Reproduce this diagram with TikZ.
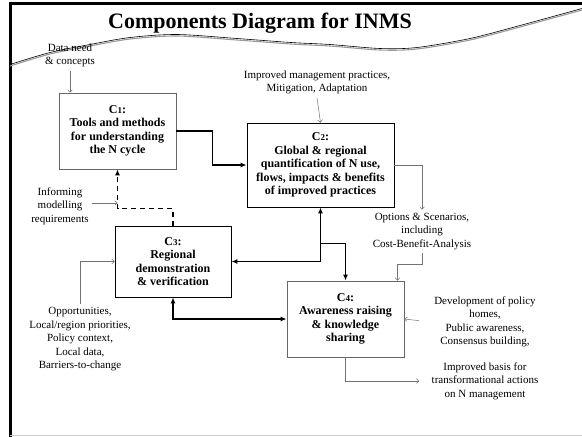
\documentclass[tikz,border=0pt]{standalone}
\usepackage{fontspec}
\setmainfont{Liberation Serif}
\usetikzlibrary{arrows.meta}
\tikzset{
  comp/.style={draw,line width=0.8pt,align=center,inner sep=2pt,
    font=\bfseries\fontsize{12}{13.5}\selectfont},
  note/.style={align=center,font=\fontsize{11}{13.5}\selectfont},
  feed/.style={draw=black!55,line width=0.5pt,->,>={To[length=3pt,width=5pt]}},
  link/.style={line width=1.3pt,>={Latex[length=6pt,width=5pt]}},
}
\newcommand{\cnum}[1]{{\fontsize{9}{9}\selectfont #1}}

\begin{document}
\begin{tikzpicture}[x=1pt,y=-1pt]
\useasboundingbox (0,0) rectangle (582,437);
% slide frame
\draw[line width=3pt] (10,437) -- (10,3) -- (582,3);
\draw[black!20,line width=0.6pt] (10,435) -- (582,435);
% wavy rule
\draw[black!40,line width=1.1pt] plot[smooth] coordinates {(10,66) (50,54) (90,46) (130,39) (177,36) (237,40) (291,44) (330,46) (380,50) (417,49) (470,40) (520,27) (582,10)};
\draw[line width=0.6pt] plot[smooth] coordinates {(10,64.5) (50,52.5) (90,44.5) (130,37.5) (177,34.5) (237,38.5) (291,42.5) (330,44.5) (380,48.5) (417,47.5) (470,38.5) (520,25.5) (582,8.5)};
\node[font=\bfseries\fontsize{22}{24}\selectfont] (title) at (260,23) {Components Diagram for INMS};

% components
\node[comp,draw=black!60,minimum width=117pt,minimum height=76pt] (c1) at (117.5,131)
  {C\cnum{1}:\\Tools and methods\\for understanding\\the N cycle};
\node[comp,minimum width=147pt,minimum height=84pt] (c2) at (320.5,165)
  {C\cnum{2}:\\Global \& regional\\quantification of N use,\\flows, impacts \& benefits\\of improved practices};
\node[comp,minimum width=116pt,minimum height=71pt] (c3) at (173,261.5)
  {C\cnum{3}:\\Regional\\demonstration\\\& verification};
\node[comp,draw=black!60,minimum width=117pt,minimum height=76pt] (c4) at (345.5,319)
  {C\cnum{4}:\\Awareness raising\\\& knowledge\\sharing};

% inputs and outputs
\node[note] (data) at (70,55.5) {Data need\\\& concepts};
\node[note] (inform) at (60,206) {Informing\\modelling\\requirements};
\node[note] (improved) at (317,82.5) {Improved management practices,\\Mitigation, Adaptation};
\node[note] (options) at (422,231.5) {Options \& Scenarios,\\including\\Cost-Benefit-Analysis};
\node[note] (opport) at (80,339.5) {Opportunities,\\Local/region priorities,\\Policy context,\\Local data,\\Barriers-to-change};
\node[note] (policy) at (485,322) {Development of policy\\homes,\\Public awareness,\\Consensus building,};
\node[note] (basis) at (485,381) {Improved basis for\\transformational actions\\on N management};

% main links
\draw[link,->] (c1.east) -- ++(36,0) |- (c2.west);
\draw[link,->,dash pattern=on 5pt off 4pt,line width=1.1pt] (c3.north) -- ++(0,-17) -| (c1.south);
\draw[link,<->] (c2.south) |- (c3.east);
\path (c2.south) ++(0,36) coordinate (fork);
\draw[link,->] (fork) -| (c4.north);
\draw[link,<->] (c3.south) |- (c4.west);

% feeds
\draw[feed] (data.south) -- (data.south |- c1.north);
\draw[feed] ([yshift=3pt]inform.east) -- ([yshift=3pt]inform.east -| c1.south);
\draw[feed] (improved.south) -- (c2.north);
\draw[feed] (c2.east) -| (options.north);
\draw[feed] (options.south) -- ++(0,11) -| ([xshift=-7pt]c4.north east);
\draw[feed] (opport.north) |- (c3.west);
\draw[feed,shorten <=12pt] (policy.west) -- (c4.east);
\draw[feed,shorten >=9pt] (c4.south) |- (basis.west);
\end{tikzpicture}
\end{document}
